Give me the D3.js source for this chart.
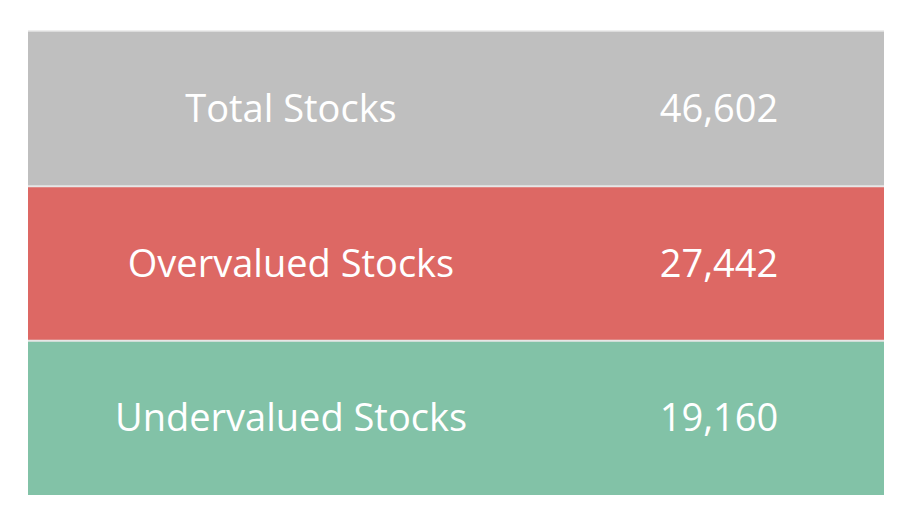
<!DOCTYPE html>
<html><head><meta charset="utf-8">
<script src="https://cdn.jsdelivr.net/npm/d3@7"></script>
<style>body{margin:0;background:#fff}</style></head>
<body><svg id="c" width="918" height="524"></svg>
<script>
const labels = ["Total Stocks", "Overvalued Stocks", "Undervalued Stocks"];
const values = [46602, 27442, 19160];
const colors = ["#bfbfbf", "#dd6864", "#82c2a7"];

(function () {
const svg = d3.select("#c");
const x0 = 28, x1 = 884, yTop = 32, yBottom = 495;
const y = d3.scaleBand().domain(labels).range([yTop, yBottom]);
const fmt = d3.format(",");

svg.append("line").attr("x1", x0).attr("x2", x1).attr("y1", 31.5).attr("y2", 31.5)
  .attr("stroke", "#dcdcdc").attr("stroke-width", 2);

const g = svg.selectAll("g.row").data(labels).join("g").attr("class", "row");
g.append("rect").attr("x", x0).attr("width", x1 - x0)
  .attr("y", d => y(d)).attr("height", y.bandwidth())
  .attr("fill", (d, i) => colors[i]);
g.filter((d, i) => i > 0).append("line")
  .attr("x1", x0).attr("x2", x1)
  .attr("y1", d => y(d)).attr("y2", d => y(d))
  .attr("stroke", "#e6e6e6").attr("stroke-width", 2);
g.append("text").attr("x", 291).attr("y", d => y(d) + y.bandwidth() / 2)
  .attr("dy", "0.35em").attr("text-anchor", "middle")
  .attr("fill", "#fff").attr("font-family", "'Open Sans', sans-serif").attr("font-size", 38)
  .text(d => d);
g.append("text").attr("x", 719).attr("y", d => y(d) + y.bandwidth() / 2)
  .attr("dy", "0.35em").attr("text-anchor", "middle")
  .attr("fill", "#fff").attr("font-family", "'Open Sans', sans-serif").attr("font-size", 38)
  .text((d, i) => fmt(values[i]));
})();
</script></body></html>
